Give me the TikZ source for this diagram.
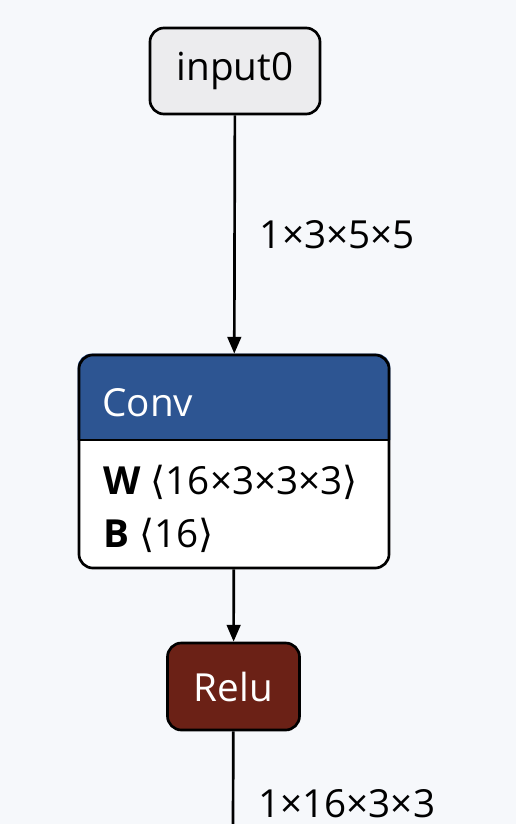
\documentclass[tikz,border=0pt]{standalone}
\usepackage{fontspec}
\setmainfont{Open Sans}
\newfontfamily\bracketfont{DejaVu Sans}
\usetikzlibrary{arrows.meta, positioning, backgrounds}
\definecolor{pagebg}{HTML}{F6F8FB}
\definecolor{inputgray}{HTML}{ECECEE}
\definecolor{convblue}{HTML}{2D5592}
\definecolor{reludark}{HTML}{6B2116}
\newcommand{\lb}{{\bracketfont\char"27E8}}
\newcommand{\rb}{{\bracketfont\char"27E9}}

\begin{document}
\begin{tikzpicture}[
  x=0.025cm, y=-0.025cm,
  box/.style={draw, line width=1.9pt, rounded corners=0.35cm},
  lbl/.style={font=\fontsize{27.5}{32}\selectfont, inner sep=0pt},
  edge/.style={line width=1.9pt, -{Triangle[length=0.42cm, width=0.34cm]}},
  leftlbl/.style={lbl, anchor=west}
]
  \useasboundingbox (0,0) rectangle (516,824);

  % nodes
  \node[box, lbl, fill=inputgray, minimum width=4.25cm, minimum height=2.15cm] (input) at (235,71) {input0};
  \node[box, minimum width=7.75cm, minimum height=5.325cm] (conv) at (234,461.5) {};
  \coordinate (hdr) at (0,440);
  \node[box, lbl, fill=reludark, text=white, minimum width=3.3cm, minimum height=2.175cm] (relu) at (233.5,686.5) {Relu};
  \coordinate (out) at (233,824);

  % page, conv header and body
  \begin{scope}[on background layer]
    \fill[pagebg] (0,0) rectangle (516,824);
    \fill[white, rounded corners=0.35cm] (conv.south west) rectangle (conv.north east);
    \fill[convblue] (conv.west |- hdr) [rounded corners=0.35cm] -- (conv.north west)
      -- (conv.north east) [sharp corners] -- (conv.east |- hdr) -- cycle;
  \end{scope}
  \draw[line width=1.9pt] (conv.west |- hdr) -- (conv.east |- hdr);
  \node[leftlbl, text=white] (convname) at (102,403) {Conv};
  \node[leftlbl] (wts) at (103,482) {\textbf{W} \lb16×3×3×3\rb};
  \node[leftlbl] (bias) at (103,535) {\textbf{B} \lb16\rb};

  % edges
  \draw[edge] (input) -- node[lbl, right=0.6cm] {1×3×5×5} (conv);
  \draw[edge] (conv) -- (relu);
  \draw[line width=1.9pt] (relu) -- (out);
  \node[leftlbl] (outshape) at (258,804) {1×16×3×3};
\end{tikzpicture}
\end{document}
